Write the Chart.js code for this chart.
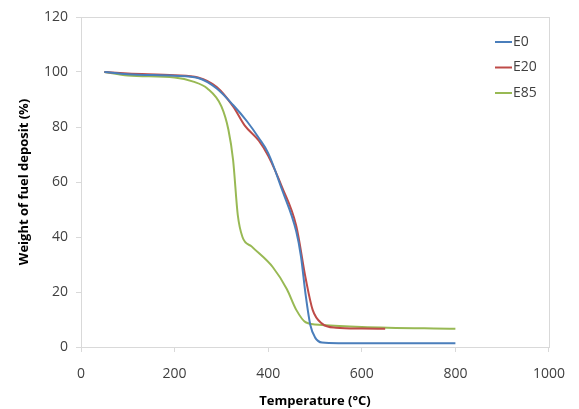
<!DOCTYPE html>
<html>
<head>
<meta charset="utf-8">
<script src="https://cdn.jsdelivr.net/npm/chart.js@4.4.0/dist/chart.umd.min.js"></script>
<style>
  html, body { margin: 0; padding: 0; background: #fff; }
  #wrap { width: 579px; height: 409px; }
</style>
</head>
<body>
<div id="wrap"><canvas id="tgaChart" width="579" height="409"></canvas></div>
<script>
// values (temperature in °C, weight in %)
var e0Temp = [50, 100, 200, 250, 290, 325, 355, 380, 400, 430, 460, 470, 480, 490, 500, 515, 550, 650, 800];
var e0Weight = [100, 99.2, 98.6, 97.8, 94, 88, 82, 76, 70.5, 57, 42, 33, 19, 8, 3.5, 1.6, 1.4, 1.4, 1.4];

var e20Temp = [50, 100, 200, 250, 290, 325, 350, 380, 400, 430, 460, 480, 495, 515, 545, 600, 650];
var e20Weight = [100, 99.5, 98.8, 98, 94.5, 87.5, 80.5, 75, 69.5, 58, 44, 25, 13.5, 8.5, 7, 6.7, 6.6];

var e85Temp = [50, 100, 200, 240, 270, 300, 315, 325, 335, 345, 365, 410, 440, 460, 480, 515, 600, 800];
var e85Weight = [100, 98.7, 98, 96.5, 94, 87.5, 79, 68, 48, 40, 36.5, 29, 21, 13.5, 9, 8, 7.3, 6.6];

var seriesNames = ['E0', 'E20', 'E85'];
var seriesColors = ['#4A7EBB', '#BE4B48', '#98B954'];
var xTicks = [0, 200, 400, 600, 800, 1000];
var yTicks = [0, 20, 40, 60, 80, 100, 120];

function toPoints(xs, ys) {
  return xs.map(function (x, i) { return { x: x, y: ys[i] }; });
}

var allSeries = [toPoints(e0Temp, e0Weight), toPoints(e20Temp, e20Weight), toPoints(e85Temp, e85Weight)];

var datasets = allSeries.map(function (pts, i) {
  return {
    label: seriesNames[i],
    data: pts,
    borderColor: seriesColors[i],
    backgroundColor: seriesColors[i],
    borderWidth: 2,
    pointRadius: 0,
    showLine: true,
    cubicInterpolationMode: 'monotone'
  };
});

// frame round the plot area + legend inside it, like the original
var framePlugin = {
  id: 'frame',
  beforeDatasetsDraw: function (chart) {
    var a = chart.chartArea, c = chart.ctx;
    c.save();
    c.strokeStyle = '#D9D9D9';
    c.lineWidth = 1;
    c.strokeRect(a.left + 0.5, a.top + 0.5, a.right - a.left, a.bottom - a.top);
    c.restore();
  },
  afterDatasetsDraw: function (chart) {
    var c = chart.ctx;
    c.save();
    c.font = '14px "Open Sans", sans-serif';
    c.textBaseline = 'middle';
    chart.data.datasets.forEach(function (ds, i) {
      var y = 42 + i * 25.5;
      c.strokeStyle = ds.borderColor;
      c.lineWidth = 2;
      c.beginPath();
      c.moveTo(495, y);
      c.lineTo(512, y);
      c.stroke();
      c.fillStyle = '#404040';
      c.fillText(ds.label, 513, y);
    });
    c.restore();
  }
};

var ctx = document.getElementById('tgaChart').getContext('2d');
var tgaChart = new Chart(ctx, {
  type: 'scatter',
  data: { datasets: datasets },
  plugins: [framePlugin],
  options: {
    responsive: false,
    animation: false,
    layout: { padding: { top: 17, right: 29, left: 16, bottom: 0 } },
    plugins: { legend: { display: false }, tooltip: { enabled: false } },
    scales: {
      x: {
        type: 'linear',
        min: 0, max: 1000,
        afterBuildTicks: function (s) { s.ticks = xTicks.map(function (v) { return { value: v }; }); },
        afterFit: function (s) { s.height = 62; },
        grid: { drawOnChartArea: false, drawTicks: true, tickLength: 5, color: '#D9D9D9' },
        border: { color: '#D9D9D9' },
        ticks: {
          color: '#404040', font: { family: 'Open Sans', size: 14 }, padding: 14, maxRotation: 0,
          callback: function (v) { return String(v); }
        },
        title: {
          display: true,
          text: 'Temperature (°C)',
          color: '#000',
          font: { family: 'Open Sans', size: 13, weight: 'bold' },
          padding: { top: 4, bottom: 0 }
        }
      },
      y: {
        min: 0, max: 120,
        afterBuildTicks: function (s) { s.ticks = yTicks.map(function (v) { return { value: v }; }); },
        afterFit: function (s) { s.width = 65; },
        grid: { drawOnChartArea: false, drawTicks: true, tickLength: 5, color: '#D9D9D9' },
        border: { color: '#D9D9D9' },
        ticks: { color: '#404040', font: { family: 'Open Sans', size: 14 }, padding: 8 },
        title: {
          display: true,
          text: 'Weight of fuel deposit (%)',
          color: '#000',
          font: { family: 'Open Sans', size: 13, weight: 'bold' },
          padding: { top: 0, bottom: 4 }
        }
      }
    }
  }
});
</script>
</body>
</html>
